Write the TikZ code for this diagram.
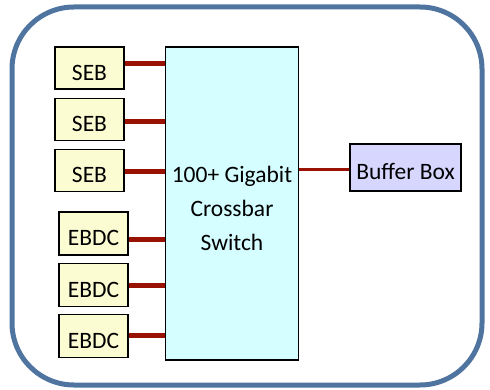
\documentclass[tikz,border=0pt]{standalone}
\usepackage{fontspec}
\setmainfont{Carlito}
\usepackage{tikz}
\usetikzlibrary{positioning}

\definecolor{frameblue}{HTML}{4F74A0}
\definecolor{linkred}{HTML}{991100}
\definecolor{boardfill}{HTML}{FCFCD2}
\definecolor{switchfill}{HTML}{D4FEFF}
\definecolor{bufferfill}{HTML}{D6D6FF}

\begin{document}
\begin{tikzpicture}[
    x=1pt, y=-1pt,
    font=\fontsize{23.5}{24}\selectfont,
    node distance=8pt,
    board/.style={draw, line width=1.2pt, fill=boardfill, inner sep=0pt, minimum width=69pt, minimum height=43pt, text height=25pt, text depth=0pt},
    link/.style={linkred, line width=5pt},
    thinlink/.style={linkred, line width=3pt}
]
\useasboundingbox (0,0) rectangle (490,390);
\draw[frameblue, line width=5pt, rounded corners=62pt] (12,7) rectangle (482,385);
% crossbar switch
\node[draw, line width=1.5pt, fill=switchfill, minimum width=133pt, minimum height=313pt, align=center, inner sep=0pt]
    (switch) at (232,203.5) {\rule{0pt}{26pt}100+ Gigabit\\[10pt]Crossbar\\[10pt]Switch};
% front-end boards
\node[board, minimum height=42pt] (seb1) at (89.5,68) {SEB};
\node[board, minimum height=42pt, below=8pt of seb1] (seb2) {SEB};
\node[board, minimum height=42pt, below=8pt of seb2] (seb3) {SEB};
\node[board] (ebdc1) at (93.5,233.5) {EBDC};
\node[board, below=7pt of ebdc1] (ebdc2) {EBDC};
\node[board, below=7pt of ebdc2] (ebdc3) {EBDC};
% buffer box
\node[board, fill=bufferfill, minimum width=111pt, minimum height=47pt] (buffer) at (405.5,167.5) {Buffer Box};
\draw[link] ([yshift=4pt]seb1.east) -- ([yshift=4pt]seb1.east -| switch.west);
\draw[link] ([yshift=-2pt]seb2.east) -- ([yshift=-2pt]seb2.east -| switch.west);
\draw[link] ([yshift=-1pt]seb3.east) -- ([yshift=-1pt]seb3.east -| switch.west);
\draw[link] ([yshift=-6pt]ebdc1.east) -- ([yshift=-6pt]ebdc1.east -| switch.west);
\draw[link] ([yshift=-1pt]ebdc2.east) -- ([yshift=-1pt]ebdc2.east -| switch.west);
\draw[link] ([yshift=-0pt]ebdc3.east) -- ([yshift=-0pt]ebdc3.east -| switch.west);
\draw[thinlink] ([yshift=-2.5pt]buffer.west) -- ([yshift=-2.5pt]buffer.west -| switch.east);
\end{tikzpicture}
\end{document}
